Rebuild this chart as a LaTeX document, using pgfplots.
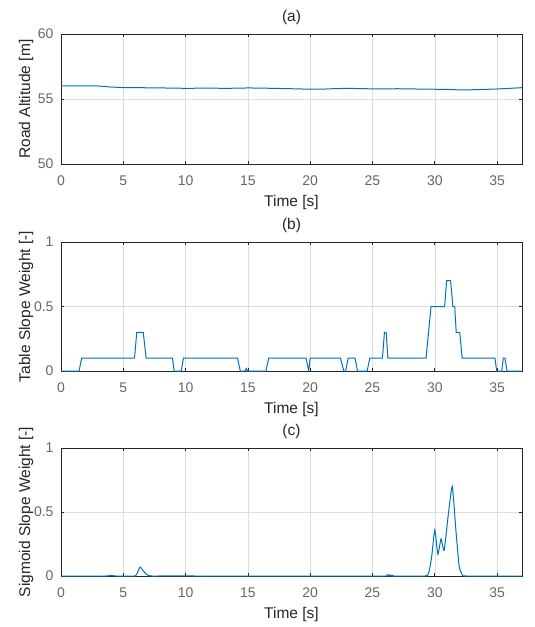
\documentclass[border=0pt]{standalone}
\usepackage{fontspec}
\setmainfont{Liberation Sans}
\usepackage{pgfplots}
\pgfplotsset{compat=1.18}
\definecolor{mblue}{rgb}{0,0.447,0.741}
\definecolor{axc}{gray}{0.15}
\pgfplotsset{mstyle/.style={
 scale only axis, width=461pt, height=130pt,
 xmin=0, xmax=37, xtick={0,5,...,35},
 grid=major, major grid style={black!13, line width=0.4pt},
 tick align=inside, major tick length=3pt,
 axis line style={axc, line width=0.8pt},
 tick style={axc, line width=0.6pt},
 tick label style={font=\fontsize{14}{16}\selectfont, text=black!60},
 xticklabel style={anchor=center, yshift=-17pt},
 yticklabel style={anchor=east, xshift=-4pt},
 label style={font=\fontsize{15.5}{18}\selectfont, text=axc},
 title style={font=\fontsize{15.5}{18}\selectfont, text=axc, at={(0.5,1)}, anchor=center, yshift=11pt},
 xlabel={Time [s]},
 xlabel style={at={(axis description cs:0.5,0)}, anchor=center, yshift=-38pt},
 ylabel style={at={(axis description cs:0,0.5)}, anchor=center, yshift=35pt},
 /pgf/number format/assume math mode=true,
 anchor=north west,
}}
\begin{document}
\begin{tikzpicture}
\useasboundingbox (0,0) rectangle (535pt,-627pt);
% (a)
\begin{axis}[mstyle, at={(61pt,-34pt)}, height=130pt, ymin=50, ymax=60, ytick={50,55,60},
  title={(a)}, ylabel={Road Altitude [m]}]
\addplot[mblue, line width=1pt] coordinates {
(0,56.00) (1,56.01) (2,56.01) (3,56.00) (4,55.92) (5,55.88) (6,55.88) (7,55.86)
(8,55.85) (9,55.84) (10,55.82) (11,55.83) (12,55.84) (13,55.82) (14,55.83)
(15,55.85) (16,55.84) (17,55.82) (18,55.80) (19,55.78) (20,55.75) (21,55.76)
(22,55.80) (23,55.82) (24,55.80) (25,55.78) (26,55.78) (27,55.79) (28,55.78)
(29,55.76) (30,55.75) (31,55.74) (32,55.70) (33,55.71) (34,55.74) (35,55.77)
(36,55.82) (37,55.87)};
\end{axis}
% (b)
\begin{axis}[mstyle, at={(61pt,-242pt)}, height=129pt, ymin=0, ymax=1, ytick={0,0.5,1},
  title={(b)}, ylabel={Table Slope Weight [-]}]
\addplot[mblue, line width=1pt] coordinates {
(0,0) (1.45,0) (1.66,0.1) (5.9,0.1) (6.08,0.3) (6.6,0.3) (6.83,0.1)
(8.95,0.1) (9.08,0) (9.65,0) (9.83,0.1) (14.17,0.1) (14.39,0) (14.75,0)
(14.87,0.02) (15.0,0) (16.45,0) (16.67,0.1) (19.67,0.1) (19.88,0) (20.0,0.1)
(22.43,0.1) (22.7,0) (22.85,0) (23.05,0.1) (23.6,0.1) (23.8,0) (24.57,0)
(24.79,0.1) (25.8,0.1) (25.96,0.3) (26.1,0.3) (26.23,0.1) (29.3,0.1)
(29.5,0.3) (29.7,0.5) (30.79,0.5) (30.95,0.7) (31.27,0.7) (31.45,0.5)
(31.6,0.5) (31.72,0.3) (32.0,0.3) (32.2,0.1) (34.83,0.1) (34.97,0)
(35.37,0) (35.5,0.1) (35.63,0.1) (35.8,0) (37,0)};
\end{axis}
% (c)
\begin{axis}[mstyle, at={(61pt,-448pt)}, height=128pt, ymin=0, ymax=1, ytick={0,0.5,1},
  title={(c)}, ylabel={Sigmoid Slope Weight [-]}]
\addplot[mblue, line width=1pt, smooth, tension=0.3] coordinates {
(0,0) (3.6,0) (4.0,0.005) (4.4,0) (5.9,0) (6.1,0.02) (6.35,0.07)
(6.6,0.04) (6.9,0.01) (7.3,0) (10,0.002) (11,0) (26,0) (26.3,0.008)
(26.6,0) (29.2,0) (29.5,0.02) (29.75,0.15) (30.0,0.36) (30.25,0.17)
(30.5,0.29) (30.75,0.2) (31.05,0.45) (31.4,0.70) (31.7,0.35)
(31.95,0.08) (32.2,0.01) (32.5,0) (37,0)};
\end{axis}
\end{tikzpicture}
\end{document}
